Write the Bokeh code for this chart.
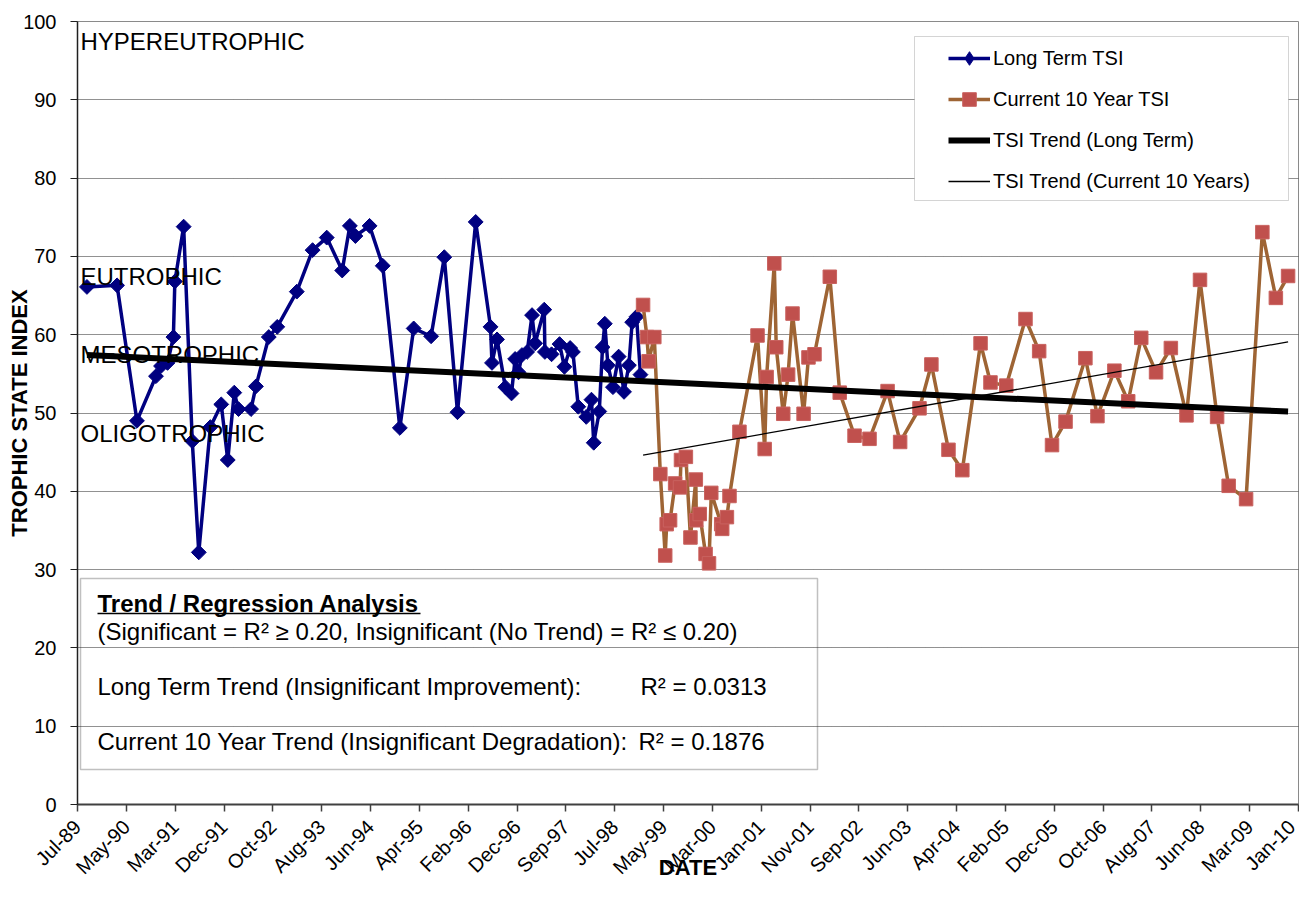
import numpy as np
import pandas as pd
from bokeh.plotting import figure
from bokeh.models import Range1d, FixedTicker, Legend, LegendItem, Label, BoxAnnotation, ColumnDataSource
from bokeh.embed import file_html
from bokeh.resources import INLINE

# ---------------- data ----------------
long_dates = [
    "1989-09-08", "1990-03-12", "1990-07-12", "1990-11-06", "1990-12-07", "1991-01-16", "1991-02-21",
    "1991-03-02", "1991-04-25", "1991-06-17", "1991-07-27", "1991-10-06", "1991-12-12", "1992-01-21",
    "1992-03-01", "1992-03-27", "1992-06-12", "1992-07-12", "1992-09-29", "1992-11-20", "1993-03-20",
    "1993-06-25", "1993-09-20", "1993-12-24", "1994-02-09", "1994-03-15", "1994-06-10", "1994-08-30",
    "1994-12-13", "1995-03-08", "1995-06-23", "1995-09-12", "1995-12-02", "1996-03-23", "1996-06-22",
    "1996-07-01", "1996-08-01", "1996-09-21", "1996-10-29", "1996-11-20", "1996-12-11", "1997-01-01",
    "1997-02-02", "1997-03-04", "1997-03-23", "1997-05-18", "1997-05-22", "1997-07-02", "1997-08-20",
    "1997-09-19", "1997-10-24", "1997-11-10", "1997-12-13", "1998-01-31", "1998-03-04", "1998-03-18",
    "1998-04-21", "1998-05-11", "1998-05-25", "1998-06-13", "1998-07-14", "1998-08-18", "1998-09-20",
    "1998-10-20", "1998-11-09", "1998-12-06", "1998-12-30",
]
long_tsi = [
    66.1, 66.3, 49.0, 54.7, 56.0, 56.4, 59.7, 66.8, 73.8, 46.4,
    32.2, 48.2, 51.1, 44.0, 52.6, 50.5, 50.5, 53.4, 59.7, 61.0,
    65.5, 70.8, 72.4, 68.2, 73.9, 72.6, 73.9, 68.8, 48.1, 60.8,
    59.8, 69.9, 50.1, 74.4, 61.0, 56.4, 59.4, 53.3, 52.5, 56.9,
    55.2, 57.4, 57.8, 62.5, 58.9, 63.2, 57.8, 57.5, 58.8, 55.9,
    58.3, 57.8, 50.8, 49.5, 51.7, 46.2, 50.2, 58.4, 61.4, 56.1,
    53.3, 57.2, 52.7, 56.1, 61.6, 62.3, 54.9,
]
cur_dates = [
    "1999-01-15", "1999-02-08", "1999-02-18", "1999-03-25", "1999-05-01", "1999-05-31", "1999-06-09",
    "1999-06-30", "1999-07-31", "1999-08-30", "1999-09-05", "1999-10-05", "1999-11-02", "1999-12-05",
    "1999-12-08", "1999-12-29", "2000-02-03", "2000-02-24", "2000-03-09", "2000-05-09", "2000-05-15",
    "2000-06-13", "2000-06-29", "2000-08-29", "2000-12-18", "2001-01-31", "2001-02-12", "2001-03-31",
    "2001-04-12", "2001-05-25", "2001-06-24", "2001-07-21", "2001-09-27", "2001-10-27", "2001-12-03",
    "2002-03-07", "2002-05-07", "2002-08-06", "2002-11-06", "2003-02-25", "2003-05-13", "2003-09-09",
    "2003-11-21", "2004-03-05", "2004-05-29", "2004-09-18", "2004-11-18", "2005-02-23", "2005-06-21",
    "2005-09-13", "2005-12-01", "2006-02-22", "2006-06-24", "2006-09-06", "2006-12-19", "2007-03-14",
    "2007-06-02", "2007-09-01", "2007-12-01", "2008-03-06", "2008-05-28", "2008-09-10", "2008-11-20",
    "2009-03-07", "2009-06-15", "2009-09-06", "2009-11-20",
]
cur_tsi = [
    63.8, 59.7, 56.6, 59.7, 42.2, 31.8, 35.8, 36.3, 41.0, 40.5,
    44.0, 44.4, 34.1, 41.5, 36.3, 37.1, 32.0, 30.8, 39.8, 35.8,
    35.2, 36.7, 39.4, 47.6, 59.9, 45.4, 54.6, 69.1, 58.4, 49.9,
    54.9, 62.7, 49.9, 57.1, 57.5, 67.4, 52.6, 47.1, 46.7, 52.8,
    46.3, 50.6, 56.2, 45.3, 42.7, 58.9, 53.9, 53.5, 62.0, 57.9,
    45.9, 48.9, 57.0, 49.6, 55.4, 51.5, 59.6, 55.2, 58.3, 49.7,
    67.0, 49.5, 40.7, 39.0, 73.1, 64.7, 67.5,
]
tick_labels = [
    "Jul-89", "May-90", "Mar-91", "Dec-91", "Oct-92", "Aug-93", "Jun-94", "Apr-95", "Feb-96",
    "Dec-96", "Sep-97", "Jul-98", "May-99", "Mar-00", "Jan-01", "Nov-01", "Sep-02", "Jun-03",
    "Apr-04", "Feb-05", "Dec-05", "Oct-06", "Aug-07", "Jun-08", "Mar-09", "Jan-10",
]
axis_start = "1989-07-12"
axis_step_days = 300
y_ticks = [0, 10, 20, 30, 40, 50, 60, 70, 80, 90, 100]
zone_names = ["HYPEREUTROPHIC", "EUTROPHIC", "MESOTROPHIC", "OLIGOTROPHIC"]
zone_upper = [100, 70, 60, 50]
r2_long = "0.0313"
r2_current = "0.1876"

FONT = "Liberation Sans"
NAVY = "#000080"
BROWN = "#9E6434"
RED = "#C0504D"

ld = pd.to_datetime(long_dates)
cd = pd.to_datetime(cur_dates)
t0 = pd.Timestamp(axis_start)
ticks = [float((t0 + pd.Timedelta(days=axis_step_days * k)).value // 10**6) for k in range(len(tick_labels))]

p = figure(width=1299, height=883, x_axis_type="datetime", output_backend="svg", toolbar_location=None,
           x_range=Range1d(ticks[0], ticks[-1]), y_range=Range1d(0, 100),
           min_border_left=77, min_border_right=1, min_border_top=21, min_border_bottom=79)
p.background_fill_color = "white"
p.border_fill_color = "white"
p.outline_line_color = "#8a8a8a"
p.outline_line_width = 1

# axes
p.xaxis.ticker = FixedTicker(ticks=ticks)
p.xaxis.major_label_overrides = {t: lab for t, lab in zip(ticks, tick_labels)}
p.xaxis.major_label_orientation = np.pi / 4
p.xaxis.major_label_text_font = FONT
p.xaxis.major_label_text_font_size = "20px"
p.xaxis.major_label_text_color = "black"
p.xaxis.major_label_standoff = 12
p.xaxis.minor_tick_line_color = None
p.xaxis.major_tick_in = 0
p.xaxis.major_tick_out = 7
p.xaxis.axis_line_color = "#404040"
p.xaxis.axis_line_width = 2
p.xaxis.major_tick_line_color = "#404040"
p.xaxis.major_tick_line_width = 1.5
p.xaxis.axis_label = "DATE"
p.xaxis.axis_label_text_font = FONT
p.xaxis.axis_label_text_font_size = "22px"
p.xaxis.axis_label_text_font_style = "bold"
p.xaxis.axis_label_text_color = "black"
p.xaxis.axis_label_standoff = -34

p.yaxis.ticker = FixedTicker(ticks=y_ticks)
p.yaxis.major_label_text_font = FONT
p.yaxis.major_label_text_font_size = "20px"
p.yaxis.major_label_text_color = "black"
p.yaxis.major_label_standoff = 14
p.yaxis.minor_tick_line_color = None
p.yaxis.major_tick_in = 0
p.yaxis.major_tick_out = 7
p.yaxis.axis_line_color = "#202020"
p.yaxis.axis_line_width = 1.5
p.yaxis.major_tick_line_color = "#202020"
p.yaxis.axis_label = "TROPHIC STATE INDEX"
p.yaxis.axis_label_text_font = FONT
p.yaxis.axis_label_text_font_size = "22px"
p.yaxis.axis_label_text_font_style = "bold"
p.yaxis.axis_label_text_color = "black"
p.yaxis.axis_label_standoff = -12

p.xgrid.grid_line_color = None
p.ygrid.ticker = FixedTicker(ticks=y_ticks)
p.ygrid.grid_line_color = "#222222"
p.ygrid.grid_line_dash = "1 1"
p.ygrid.grid_line_width = 1

# series
src_l = ColumnDataSource(dict(x=ld, y=long_tsi))
src_c = ColumnDataSource(dict(x=cd, y=cur_tsi))
l_line = p.line("x", "y", source=src_l, line_color=NAVY, line_width=3.5)
l_pts = p.scatter("x", "y", source=src_l, marker="square", angle=np.pi / 4, size=10.5,
                  fill_color=NAVY, line_color=NAVY)
c_line = p.line("x", "y", source=src_c, line_color=BROWN, line_width=3.5)
c_pts = p.scatter("x", "y", source=src_c, marker="square", size=13.5, fill_color=RED,
                  line_color="#C9625F", line_width=1)
# legend key only (draws nothing in the plot; the legend shows markers unrotated)
l_key = p.scatter(x=[np.nan], y=[np.nan], marker="diamond", fill_color=NAVY, line_color=NAVY)

# trend lines (least-squares fits of the data)
def days(idx):
    return idx.values.astype("int64") / 8.64e13

all_x = np.concatenate([days(ld), days(cd)])
all_y = np.concatenate([long_tsi, cur_tsi])
s1, b1 = np.polyfit(all_x, all_y, 1)
xe1 = np.array([all_x.min(), all_x.max()])
lt_line = p.line(xe1 * 8.64e7, s1 * xe1 + b1, line_color="black", line_width=6)

cx = days(cd)
s2, b2 = np.polyfit(cx, np.array(cur_tsi), 1)
xe2 = np.array([cx.min(), cx.max()])
ct_line = p.line(xe2 * 8.64e7, s2 * xe2 + b2, line_color="black", line_width=1.3)

# zone labels
for name, top in zip(zone_names, zone_upper):
    p.add_layout(Label(x=3, y=top, x_units="screen", y_units="data", y_offset=-20, text=name,
                       text_font=FONT, text_font_size="24px", text_baseline="middle",
                       text_align="left", text_color="black"))

# legend box + legend
p.add_layout(BoxAnnotation(left=837, right=1211, bottom=604, top=768,
                           left_units="screen", right_units="screen", top_units="screen", bottom_units="screen",
                           fill_color="white", fill_alpha=1, line_color="#707070", line_width=1))
legend = Legend(items=[
    LegendItem(label="Long Term TSI", renderers=[l_line, l_key]),
    LegendItem(label="Current 10 Year TSI", renderers=[c_line, c_pts]),
    LegendItem(label="TSI Trend (Long Term)", renderers=[lt_line]),
    LegendItem(label="TSI Trend (Current 10 Years)", renderers=[ct_line]),
], location=(861, 596), glyph_width=42, glyph_height=34, label_height=20, label_standoff=3,
    spacing=7, padding=10, margin=0, border_line_alpha=0, background_fill_alpha=0,
    label_text_font=FONT, label_text_font_size="20px", label_text_color="black")
p.add_layout(legend, "center")

# regression text box
p.add_layout(BoxAnnotation(left=3, right=740, bottom=35, top=226,
                           left_units="screen", right_units="screen", top_units="screen", bottom_units="screen",
                           fill_alpha=0, line_color="#303030", line_width=1.5))
p.add_layout(BoxAnnotation(left=20, right=343, bottom=190.2, top=191.8,
                           left_units="screen", right_units="screen", top_units="screen", bottom_units="screen",
                           fill_color="black", fill_alpha=1, line_alpha=0))
box_lines = [
    (20, 201, "Trend / Regression Analysis", "bold"),
    (20, 173, "(Significant = R\u00b2 \u2265 0.20, Insignificant (No Trend) = R\u00b2 \u2264 0.20)", "normal"),
    (20, 118, "Long Term Trend (Insignificant Improvement):", "normal"),
    (563, 118, "R\u00b2 = " + r2_long, "normal"),
    (20, 63, "Current 10 Year Trend (Insignificant Degradation):", "normal"),
    (561, 63, "R\u00b2 = " + r2_current, "normal"),
]
for x, y, txt, style in box_lines:
    p.add_layout(Label(x=x, y=y, x_units="screen", y_units="screen", text=txt, text_font=FONT,
                       text_font_size="24px", text_font_style=style, text_baseline="middle",
                       text_align="left", text_color="black"))

open("out.html", "w").write(file_html(p, INLINE))
